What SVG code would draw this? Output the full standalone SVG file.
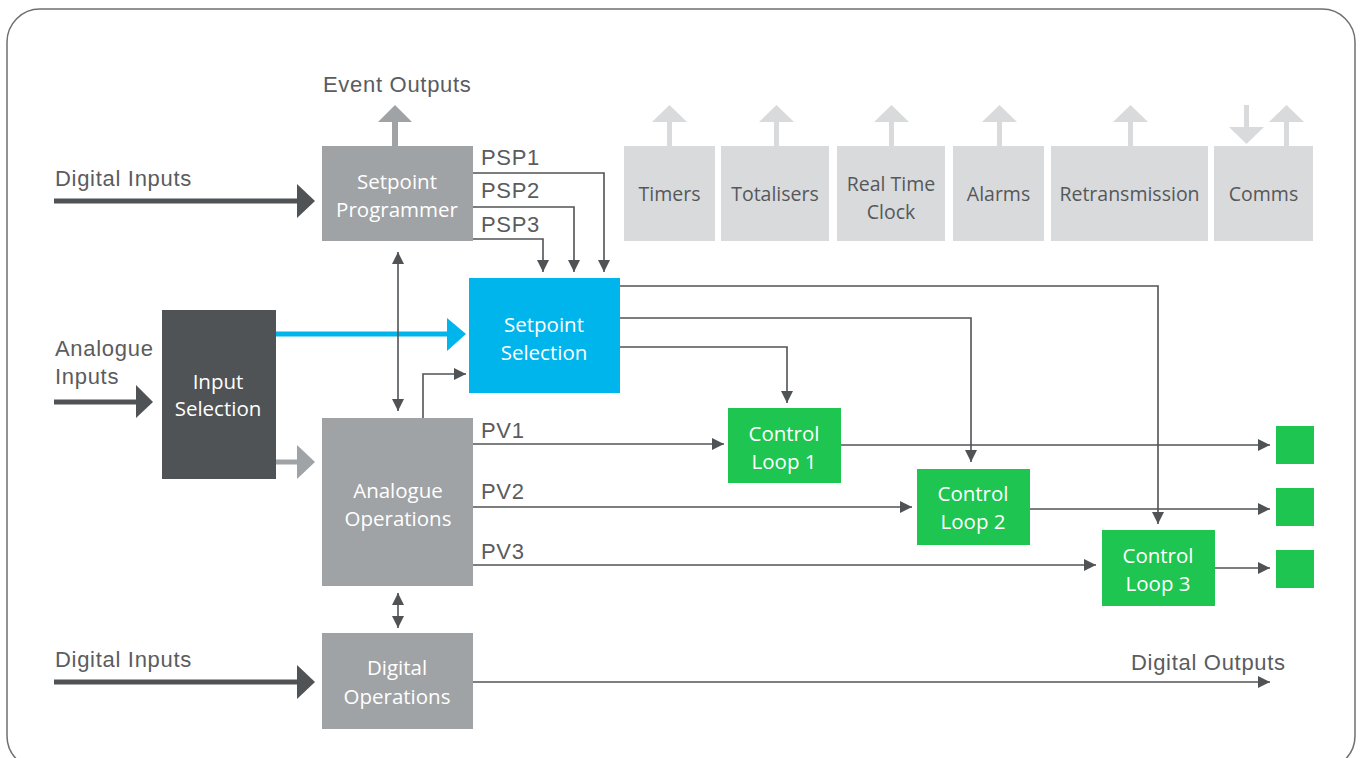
<svg xmlns="http://www.w3.org/2000/svg" width="1362" height="758" viewBox="0 0 1362 758">
<defs>
<style>
.lbl{font-family:"Liberation Sans",Arial,sans-serif;font-size:22px;letter-spacing:0.7px;fill:#5a5c5e;}
.nt{font-family:"Open Sans","Noto Sans",sans-serif;font-size:20.5px;fill:#ffffff;text-anchor:middle;}
.tt{font-family:"Open Sans","Noto Sans",sans-serif;font-size:19.5px;fill:#55585b;text-anchor:middle;}
.cn{fill:none;stroke:#505356;stroke-width:1.6;}
.mid{fill:#a0a3a6;}
.lt{fill:#d9dadb;}
.dk{fill:#505356;}
.gr{fill:#1ec550;}
.bl{fill:#00b5ec;}
</style>
<marker id="ah" viewBox="0 0 12 12" refX="12" refY="6" markerWidth="12" markerHeight="12" markerUnits="userSpaceOnUse" orient="auto-start-reverse">
<path d="M0,0 L12,6 L0,12 z" fill="#505356"/>
</marker>
</defs>
<rect x="7" y="9" width="1348" height="760" rx="33" fill="#ffffff" stroke="#6d6f71" stroke-width="1.5"/>

<g id="connectors">
<path d="M54,201 H298" stroke="#505356" stroke-width="5" fill="none"/>
<path d="M297,184 L315,201 L297,218 z" fill="#505356"/>
<path d="M54,402 H137" stroke="#505356" stroke-width="5" fill="none"/>
<path d="M136,385 L153,402 L136,418 z" fill="#505356"/>
<path d="M54,682 H298" stroke="#505356" stroke-width="5" fill="none"/>
<path d="M297,665 L315,682 L297,699 z" fill="#505356"/>
<path d="M276,334 H448" stroke="#00b5ec" stroke-width="5" fill="none"/>
<path d="M447,318 L466,334 L447,351 z" fill="#00b5ec"/>
<path d="M276,462 H298" stroke="#a0a3a6" stroke-width="5" fill="none"/>
<path d="M297,445 L315,462 L297,479 z" fill="#a0a3a6"/>
<path d="M395,146 V121" stroke="#a0a3a6" stroke-width="6" fill="none"/>
<path d="M378,122 L395,105 L412,122 z" fill="#a0a3a6"/>
<g fill="#d9dadb" stroke="none">
<rect x="667" y="121" width="5" height="25"/><path d="M652,122 L669.5,105 L687,122 z"/>
<rect x="774" y="121" width="5" height="25"/><path d="M759,122 L776.5,105 L794,122 z"/>
<rect x="889" y="121" width="5" height="25"/><path d="M874,122 L891.5,105 L909,122 z"/>
<rect x="997" y="121" width="5" height="25"/><path d="M982,122 L999.5,105 L1017,122 z"/>
<rect x="1128" y="121" width="5" height="25"/><path d="M1113,122 L1130.5,105 L1148,122 z"/>
<rect x="1284" y="121" width="5" height="25"/><path d="M1269,122 L1286.5,105 L1304,122 z"/>
<rect x="1244" y="105" width="5" height="24"/><path d="M1229,127 L1246.5,144 L1264,127 z"/>
</g>
<path class="cn" d="M473,173 H604 V272" marker-end="url(#ah)"/>
<path class="cn" d="M473,207 H574 V272" marker-end="url(#ah)"/>
<path class="cn" d="M473,239 H543 V272" marker-end="url(#ah)"/>
<path class="cn" d="M398,252 V411" marker-start="url(#ah)" marker-end="url(#ah)"/>
<path class="cn" d="M398,593 V628" marker-start="url(#ah)" marker-end="url(#ah)"/>
<path class="cn" d="M423,418 V374 H466" marker-end="url(#ah)"/>
<path class="cn" d="M620,286 H1158 V524" marker-end="url(#ah)"/>
<path class="cn" d="M620,318 H971 V462" marker-end="url(#ah)"/>
<path class="cn" d="M620,347 H787 V403" marker-end="url(#ah)"/>
<path class="cn" d="M473,444 H724" marker-end="url(#ah)"/>
<path class="cn" d="M473,507 H912" marker-end="url(#ah)"/>
<path class="cn" d="M473,565 H1096" marker-end="url(#ah)"/>
<path class="cn" d="M841,445 H1270" marker-end="url(#ah)"/>
<path class="cn" d="M1030,509 H1270" marker-end="url(#ah)"/>
<path class="cn" d="M1215,568 H1270" marker-end="url(#ah)"/>
<path class="cn" d="M473,682 H1270" marker-end="url(#ah)"/>
</g>

<g id="labels">
<text class="lbl" x="323" y="92">Event Outputs</text>
<text class="lbl" x="55" y="186">Digital Inputs</text>
<text class="lbl" x="481" y="165">PSP1</text>
<text class="lbl" x="481" y="198">PSP2</text>
<text class="lbl" x="481" y="232">PSP3</text>
<text class="lbl" x="55" y="356">Analogue</text>
<text class="lbl" x="55" y="384">Inputs</text>
<text class="lbl" x="481" y="438">PV1</text>
<text class="lbl" x="481" y="499">PV2</text>
<text class="lbl" x="481" y="559">PV3</text>
<text class="lbl" x="55" y="667">Digital Inputs</text>
<text class="lbl" x="1131" y="670">Digital Outputs</text>
</g>

<g id="setpoint-programmer"><rect class="mid" x="322" y="146" width="151" height="95"/>
<text class="nt" x="397" y="189">Setpoint</text><text class="nt" x="397" y="217">Programmer</text></g>
<g id="timers"><rect class="lt" x="624" y="146" width="91" height="95"/><text class="tt" x="669.5" y="201">Timers</text></g>
<g id="totalisers"><rect class="lt" x="721" y="146" width="108" height="95"/><text class="tt" x="775" y="201">Totalisers</text></g>
<g id="real-time-clock"><rect class="lt" x="837" y="146" width="108" height="95"/><text class="tt" x="891" y="191">Real Time</text><text class="tt" x="891" y="219">Clock</text></g>
<g id="alarms"><rect class="lt" x="953" y="146" width="91" height="95"/><text class="tt" x="998.5" y="201">Alarms</text></g>
<g id="retransmission"><rect class="lt" x="1051" y="146" width="157" height="95"/><text class="tt" x="1129.5" y="201">Retransmission</text></g>
<g id="comms"><rect class="lt" x="1214" y="146" width="99" height="95"/><text class="tt" x="1263.5" y="201">Comms</text></g>

<g id="setpoint-selection"><rect class="bl" x="469" y="278" width="151" height="115"/>
<text class="nt" x="544" y="332">Setpoint</text><text class="nt" x="544" y="360">Selection</text></g>
<g id="input-selection"><rect class="dk" x="162" y="310" width="114" height="169"/>
<text class="nt" x="218" y="389">Input</text><text class="nt" x="218" y="416">Selection</text></g>
<g id="analogue-operations"><rect class="mid" x="322" y="418" width="151" height="168"/>
<text class="nt" x="398" y="498">Analogue</text><text class="nt" x="398" y="526">Operations</text></g>
<g id="digital-operations"><rect class="mid" x="322" y="633" width="151" height="96"/>
<text class="nt" x="397" y="675">Digital</text><text class="nt" x="397" y="704">Operations</text></g>
<g id="control-loop-1"><rect class="gr" x="728" y="408" width="113" height="75"/>
<text class="nt" x="784" y="441">Control</text><text class="nt" x="784" y="469">Loop 1</text></g>
<g id="control-loop-2"><rect class="gr" x="917" y="469" width="113" height="76"/>
<text class="nt" x="973" y="501">Control</text><text class="nt" x="973" y="529">Loop 2</text></g>
<g id="control-loop-3"><rect class="gr" x="1102" y="530" width="113" height="76"/>
<text class="nt" x="1158" y="563">Control</text><text class="nt" x="1158" y="591">Loop 3</text></g>
<g id="output-1"><rect class="gr" x="1276" y="426" width="38" height="38"/></g>
<g id="output-2"><rect class="gr" x="1276" y="488" width="38" height="38"/></g>
<g id="output-3"><rect class="gr" x="1276" y="550" width="38" height="38"/></g>
</svg>
